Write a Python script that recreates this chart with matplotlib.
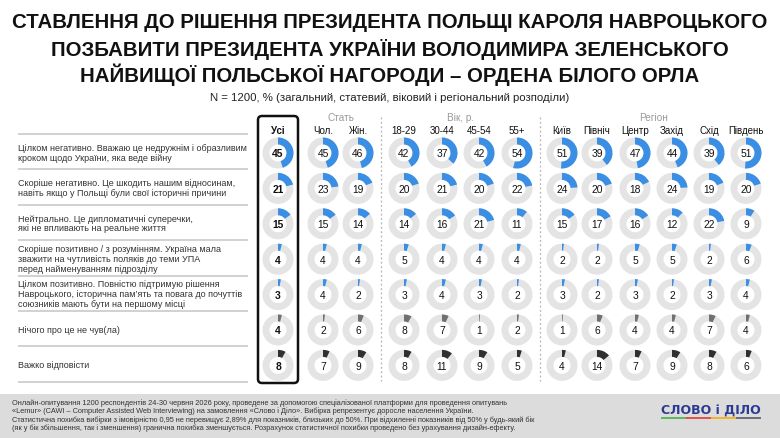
import matplotlib
matplotlib.use("Agg")
import matplotlib.pyplot as plt
from matplotlib.patches import Wedge, FancyBboxPatch, Rectangle
from matplotlib import font_manager

# --- data ---
answers = [
    "Цілком негативно. Вважаю це недружнім і образливим\nкроком щодо України, яка веде війну",
    "Скоріше негативно. Це шкодить нашим відносинам,\nнавіть якщо у Польщі були свої історичні причини",
    "Нейтрально. Це дипломатичні суперечки,\nякі не впливають на реальне життя",
    "Скоріше позитивно / з розумінням. Україна мала\nзважити на чутливість поляків до теми УПА\nперед найменуванням підрозділу",
    "Цілком позитивно. Повністю підтримую рішення\nНавроцького, історична пам’ять та повага до почуттів\nсоюзників мають бути на першому місці",
    "Нічого про це не чув(ла)",
    "Важко відповісти",
]
columns = ["Усі", "Чол.", "Жін.", "18-29", "30-44", "45-54", "55+",
           "Київ", "Північ", "Центр", "Захід", "Схід", "Південь"]
values = {
    "Усі":     [45, 21, 15, 4, 3, 4, 8],
    "Чол.":    [45, 23, 15, 4, 4, 2, 7],
    "Жін.":    [46, 19, 14, 4, 2, 6, 9],
    "18-29":   [42, 20, 14, 5, 3, 8, 8],
    "30-44":   [37, 21, 16, 4, 4, 7, 11],
    "45-54":   [42, 20, 21, 4, 3, 1, 9],
    "55+":     [54, 22, 11, 4, 2, 2, 5],
    "Київ":    [51, 24, 15, 2, 3, 1, 4],
    "Північ":  [39, 20, 17, 2, 2, 6, 14],
    "Центр":   [47, 18, 16, 5, 3, 4, 7],
    "Захід":   [44, 24, 12, 5, 2, 4, 9],
    "Схід":    [39, 19, 22, 2, 3, 7, 8],
    "Південь": [51, 20, 9, 6, 4, 4, 6],
}
groups = [("Стать", 1, 2), ("Вік, р.", 3, 6), ("Регіон", 7, 12)]

title_lines = ["СТАВЛЕННЯ ДО РІШЕННЯ ПРЕЗИДЕНТА ПОЛЬЩІ КАРОЛЯ НАВРОЦЬКОГО",
               "ПОЗБАВИТИ ПРЕЗИДЕНТА УКРАЇНИ ВОЛОДИМИРА ЗЕЛЕНСЬКОГО",
               "НАЙВИЩОЇ ПОЛЬСЬКОЇ НАГОРОДИ – ОРДЕНА БІЛОГО ОРЛА"]
subtitle = "N = 1200, % (загальний, статевий, віковий і регіональний розподіли)"
footer = ("Онлайн-опитування 1200 респондентів 24-30 червня 2026 року, проведене за допомогою спеціалізованої платформи для проведення опитувань\n"
          "«Lemur» (CAWI – Computer Assisted Web Interviewing) на замовлення «Слово і Діло». Вибірка репрезентує доросле населення України.\n"
          "Статистична похибка вибірки з імовірністю 0,95 не перевищує 2,89% для показників, близьких до 50%. При відхиленні показників від 50% у будь-який бік\n"
          "(як у бік збільшення, так і зменшення) гранична похибка зменшується. Розрахунок статистичної похибки проведено без урахування дизайн-ефекту.")

row_colors = ["#3a8ee4"] * 5 + ["#707070", "#303030"]

names = {f.name for f in font_manager.fontManager.ttflist}
narrow = "Liberation Sans Narrow" if "Liberation Sans Narrow" in names else "Liberation Sans"
plt.rcParams["font.family"] = ["Liberation Sans", "DejaVu Sans"]

W, H = 780, 439
fig = plt.figure(figsize=(W / 100, H / 100), dpi=100)
ax = fig.add_axes([0, 0, 1, 1])
ax.set_xlim(0, W)
ax.set_ylim(H, 0)
ax.axis("off")

# title
for k, line in enumerate(title_lines):
    ax.text(390, 23 + k * 26, line, ha="center", va="center", fontsize=14.7,
            fontweight="bold", family=[narrow, "DejaVu Sans"], color="#111111")
ax.text(390, 98, subtitle, ha="center", va="center", fontsize=8.2, color="#222222",
        family=[narrow, "DejaVu Sans"])

# layout
col_x = [278, 323, 358, 404, 442, 479, 517, 562, 597, 635, 672, 709, 746]
row_y0, row_h = 154, 35.4
line_ys = [135 + i * row_h for i in range(len(answers) + 1)]
r_out, ring_w = 15.5, 7

for y in line_ys:
    ax.plot([18, 248], [y, y], color="#c9c9c9", lw=1.2, solid_capstyle="butt")
for i, lab in enumerate(answers):
    ax.text(18, (line_ys[i] + line_ys[i + 1]) / 2 + 0.5, lab, ha="left", va="center",
            fontsize=6.5, color="#333333", linespacing=1.12)

# highlight box around total
ax.add_patch(FancyBboxPatch((258, 117), 40, 267, boxstyle="round,pad=0,rounding_size=4",
                            fill=False, ec="#111111", lw=1.8))

# group labels and separators
for name, a, b in groups:
    ax.text((col_x[a] + col_x[b]) / 2, 118, name, ha="center", va="center",
            fontsize=7.2, color="#9a9a9a")
for xs in [(col_x[2] + col_x[3]) / 2, (col_x[6] + col_x[7]) / 2]:
    ax.plot([xs, xs], [118, 382], color="#b5b5b5", lw=0.9, ls=(0, (1.5, 2)))

for j, col in enumerate(columns):
    bold = j == 0
    cx = col_x[j]
    ax.text(cx, 131, col, ha="center", va="center", fontsize=7,
            fontweight="bold" if bold else "normal", color="#111111")
    for i, v in enumerate(values[col]):
        cy = row_y0 + i * row_h
        ax.add_patch(Wedge((cx, cy), r_out, 0, 360, width=ring_w, fc="#e4e4e4", ec="none"))
        # y axis is inverted: 270 is the top, increasing angle runs clockwise on screen
        ax.add_patch(Wedge((cx, cy), r_out, 270, 270 + 3.6 * v, width=ring_w,
                           fc=row_colors[i], ec="none"))
        ax.text(cx, cy + 0.5, str(v), ha="center", va="center", fontsize=7.4,
                fontweight="bold" if bold else "normal", color="#111111")

# footer
ax.add_patch(Rectangle((0, 395), W, H - 395, fc="#dcdcdc", ec="none"))
ax.text(12, 415.5, footer, ha="left", va="center", fontsize=5.3, color="#333333",
        linespacing=1.1, family=[narrow, "DejaVu Sans"])
ax.text(711, 411, "СЛОВО і ДІЛО", ha="center", va="center", fontsize=9,
        fontweight="bold", color="#2b3a92", family=["DejaVu Sans"])
for k, c in enumerate(["#5cb85c", "#e0514a", "#f0b429", "#6b6f7a"]):
    ax.plot([661 + k * 25, 661 + (k + 1) * 25], [419, 419], color=c, lw=1.4,
            solid_capstyle="butt")

fig.savefig("out.png", dpi=100)
